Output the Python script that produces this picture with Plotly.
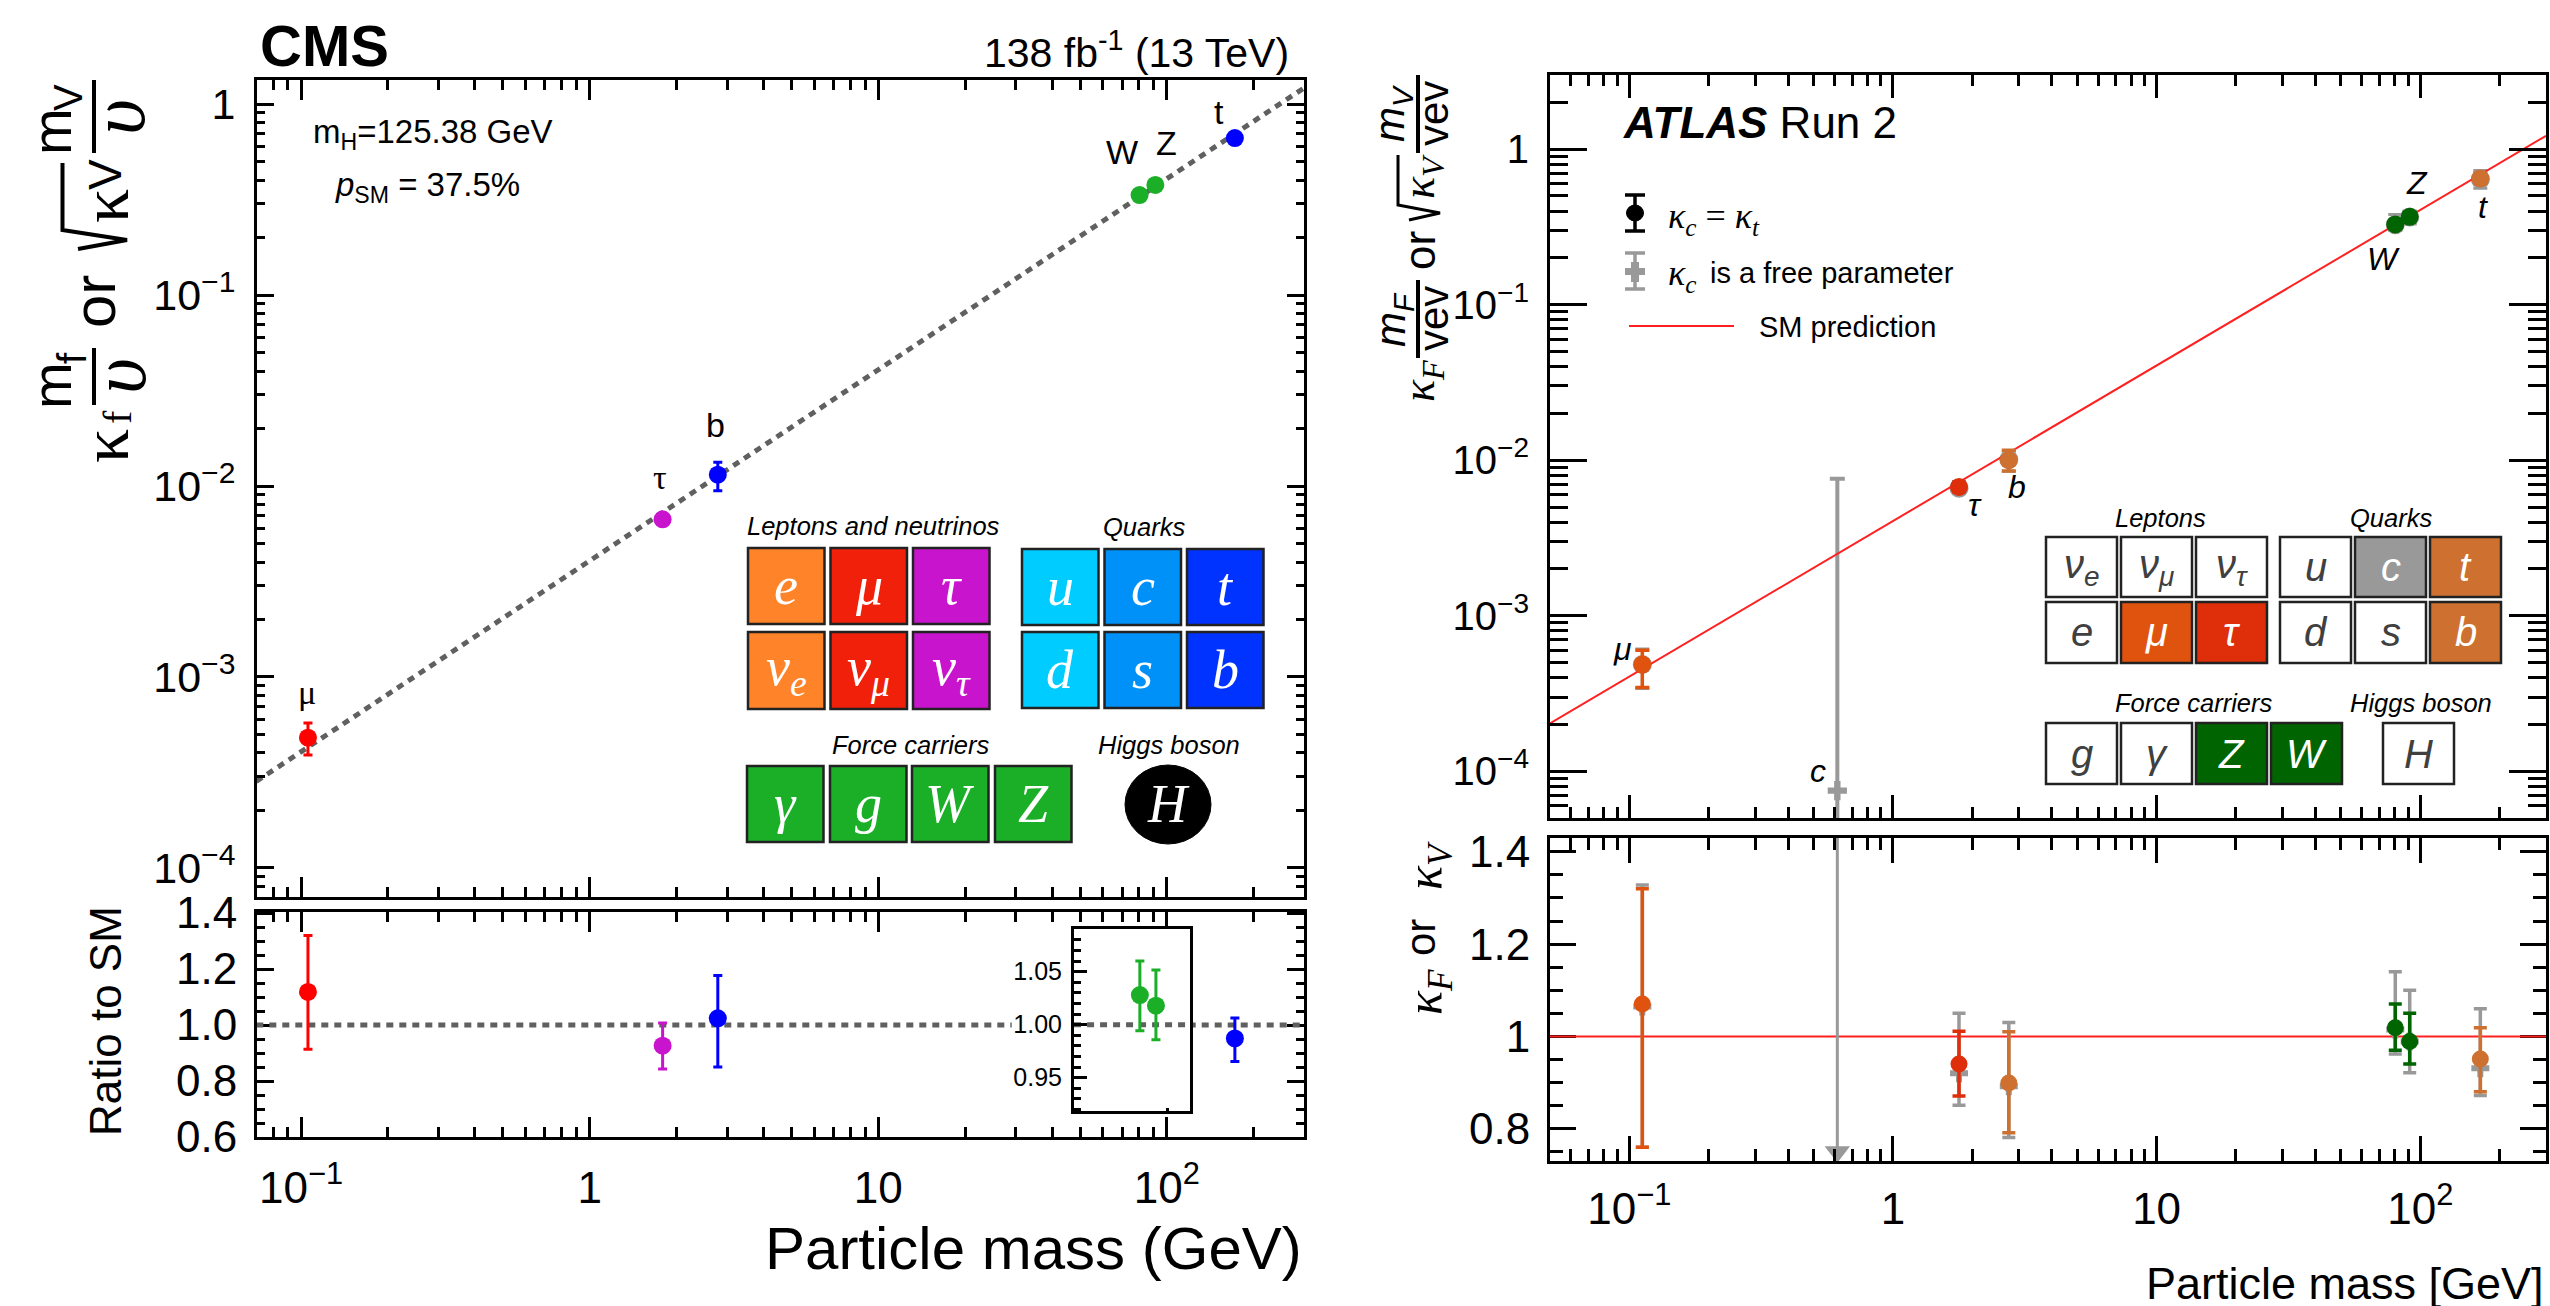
import plotly.graph_objects as go

W, H = 2550, 1306
SANS = "Liberation Sans"
SERIF = "Liberation Serif"

# ---------------- shared axis values ----------------
x_major = [0.1, 1, 10, 100]
x_major_text = ["10<sup>−1</sup>", "1", "10", "10<sup>2</sup>"]
x_minor = [0.06, 0.07, 0.08, 0.09, 0.2, 0.3, 0.4, 0.5, 0.6, 0.7, 0.8, 0.9,
           2, 3, 4, 5, 6, 7, 8, 9, 20, 30, 40, 50, 60, 70, 80, 90, 200, 300]
y_major = [1e-4, 1e-3, 1e-2, 1e-1, 1]
y_major_text = ["10<sup>−4</sup>", "10<sup>−3</sup>", "10<sup>−2</sup>", "10<sup>−1</sup>", "1"]
y_minor = [m * d for d in (1e-5, 1e-4, 1e-3, 1e-2, 1e-1, 1) for m in (2, 3, 4, 5, 6, 7, 8, 9)]

# ---------------- CMS data ----------------
cms_sm_x = [0.0700, 300]
cms_sm_y = [2.84e-4, 1.22]
cms_names = ["mu", "tau", "b", "W", "Z", "t"]
cms_mass = [0.1057, 1.79, 2.78, 80.4, 91.2, 172]
cms_value = [4.81e-4, 6.69e-3, 0.01146, 0.334, 0.377, 0.664]
cms_high = [5.75e-4, 6.95e-3, 0.0133, 0.345, 0.39, 0.70]
cms_low = [3.9e-4, 6.4e-3, 0.00945, 0.325, 0.365, 0.63]
cms_colors = ["#FF0000", "#C814CC", "#0000FF", "#1AAF27", "#1AAF27", "#0000FF"]

cms_ratio_names = ["mu", "tau", "b", "t"]
cms_ratio_mass = [0.1057, 1.79, 2.78, 172]
cms_ratio_value = [1.118, 0.926, 1.024, 0.952]
cms_ratio_high = [1.32, 1.007, 1.177, 1.025]
cms_ratio_low = [0.913, 0.843, 0.85, 0.87]
cms_ratio_colors = ["#FF0000", "#C814CC", "#0000FF", "#0000FF"]
cms_ratio_line_left = [0.07, 29]
cms_ratio_line_right = [119, 300]
cms_ratio_line_y = [1.0, 1.0]

inset_mass = [80.4, 91.2]
inset_value = [1.028, 1.018]
inset_high = [1.060, 1.0516]
inset_low = [0.9943, 0.9858]
inset_line_x = [48, 119]
inset_line_y = [1.0, 1.0]

# ---------------- ATLAS data ----------------
atlas_sm_x = [0.05, 300]
atlas_sm_y = [2.03e-4, 1.22]
atlas_mass = [0.112, 1.78, 2.75, 80.4, 91.2, 169]
atlas_value = [4.85e-4, 6.73e-3, 0.0100, 0.328, 0.367, 0.648]
atlas_high = [6.0e-4, 7.15e-3, 0.0116, 0.345, 0.39, 0.70]
atlas_low = [3.45e-4, 6.3e-3, 0.00853, 0.31, 0.345, 0.60]
atlas_gray_value = [4.85e-4, 6.6e-3, 0.0101, 0.327, 0.366, 0.64]
atlas_gray_high = [6.1e-4, 7.3e-3, 0.0114, 0.38, 0.40, 0.73]
atlas_gray_low = [3.4e-4, 6.1e-3, 0.0085, 0.30, 0.33, 0.56]
atlas_colors = ["#E0530F", "#DE2E0A", "#CD7030", "#006400", "#006400", "#CD7030"]
atlas_gray = "#999999"
atlas_c_mass = [0.615]
atlas_c_value = [7.5e-5]
atlas_c_high = [7.6e-3]
atlas_c_low = [4e-5]

atlas_ratio_line_x = [0.05, 300]
atlas_ratio_line_y = [1.0, 1.0]
atlas_ratio_value = [1.07, 0.94, 0.899, 1.019, 0.989, 0.951]
atlas_ratio_high = [1.32, 1.011, 1.01, 1.07, 1.05, 1.019]
atlas_ratio_low = [0.76, 0.871, 0.791, 0.97, 0.94, 0.88]
atlas_ratio_gray_value = [1.065, 0.92, 0.892, 1.015, 0.989, 0.931]
atlas_ratio_gray_high = [1.328, 1.05, 1.03, 1.14, 1.10, 1.06]
atlas_ratio_gray_low = [0.76, 0.851, 0.781, 0.962, 0.921, 0.872]
atlas_c_ratio_x = [0.615, 0.615]
atlas_c_ratio_y = [1.45, 0.75]


def X(p):
    return p / W


def Y(p):
    return 1 - p / H


fig = go.Figure()


def err(vals, hi, lo, color, width, thick):
    return dict(type="data", symmetric=False,
                array=[h - v for h, v in zip(hi, vals)],
                arrayminus=[v - l for l, v in zip(lo, vals)],
                color=color, thickness=thick, width=width)


def point(xa, ya, x, y, hi, lo, color, size, symbol="circle", capw=4.5, thick=3):
    fig.add_trace(go.Scatter(x=[x], y=[y], xaxis=xa, yaxis=ya, mode="markers",
                             marker=dict(color=color, size=size, symbol=symbol, line=dict(width=0)),
                             error_y=err([y], [hi], [lo], color, capw, thick),
                             showlegend=False, hoverinfo="skip"))


def line(xa, ya, xs, ys, color, width, dash="solid"):
    fig.add_trace(go.Scatter(x=xs, y=ys, xaxis=xa, yaxis=ya, mode="lines",
                             line=dict(color=color, width=width, dash=dash),
                             showlegend=False, hoverinfo="skip"))


DOT = "7px,6px"
GRAYL = "#606060"
# CMS main
line("x", "y", cms_sm_x, cms_sm_y, GRAYL, 5, DOT)
for i in range(len(cms_names)):
    point("x", "y", cms_mass[i], cms_value[i], cms_high[i], cms_low[i], cms_colors[i], 18)
# CMS ratio
line("x2", "y2", cms_ratio_line_left, cms_ratio_line_y, GRAYL, 5, DOT)
line("x2", "y2", cms_ratio_line_right, cms_ratio_line_y, GRAYL, 5, DOT)
for i in range(len(cms_ratio_names)):
    point("x2", "y2", cms_ratio_mass[i], cms_ratio_value[i], cms_ratio_high[i], cms_ratio_low[i],
          cms_ratio_colors[i], 18)
# inset
line("x3", "y3", inset_line_x, inset_line_y, GRAYL, 5, DOT)
for i in range(len(inset_mass)):
    point("x3", "y3", inset_mass[i], inset_value[i], inset_high[i], inset_low[i], "#1AAF27", 18)

# ATLAS main
point("x4", "y4", atlas_c_mass[0], atlas_c_value[0], atlas_c_high[0], atlas_c_low[0], atlas_gray, 16,
      "cross", 7.5, 4)
for i in range(len(atlas_mass)):
    point("x4", "y4", atlas_mass[i], atlas_gray_value[i], atlas_gray_high[i], atlas_gray_low[i],
          atlas_gray, 19, "circle", 7, 3)
line("x4", "y4", atlas_sm_x, atlas_sm_y, "#FF2020", 2)
for i in range(len(atlas_mass)):
    point("x4", "y4", atlas_mass[i], atlas_value[i], atlas_high[i], atlas_low[i], atlas_colors[i], 18,
          "circle", 7, 3.5)
# ATLAS ratio
line("x5", "y5", atlas_ratio_line_x, atlas_ratio_line_y, "#FF2020", 2)
line("x5", "y5", atlas_c_ratio_x, atlas_c_ratio_y, atlas_gray, 3)
fig.add_trace(go.Scatter(x=atlas_c_ratio_x[1:], y=atlas_c_ratio_y[1:], xaxis="x5", yaxis="y5", mode="markers",
                         marker=dict(symbol="triangle-down", size=22, color=atlas_gray),
                         showlegend=False, hoverinfo="skip"))
for i in range(len(atlas_mass)):
    point("x5", "y5", atlas_mass[i], atlas_ratio_gray_value[i], atlas_ratio_gray_high[i],
          atlas_ratio_gray_low[i], atlas_gray, 15, "cross", 6.5, 3.5)
for i in range(len(atlas_mass)):
    point("x5", "y5", atlas_mass[i], atlas_ratio_value[i], atlas_ratio_high[i], atlas_ratio_low[i],
          atlas_colors[i], 17, "circle", 6.5, 3.5)


def axis(**kw):
    base = dict(showline=True, linecolor="black", linewidth=3, mirror="allticks", ticks="inside",
                showgrid=False, zeroline=False, tickcolor="black", tickwidth=2.5)
    base.update(kw)
    return base


def xax(x0, x1, rng, anchor, major=20, minor=10, labels=False, fs=44, standoff=10):
    return axis(type="log", range=rng, domain=[X(x0), X(x1)], anchor=anchor,
                tickmode="array", tickvals=x_major, ticktext=x_major_text,
                ticklen=major, showticklabels=labels, ticklabelstandoff=standoff,
                tickfont=dict(family=SANS, size=fs, color="black"),
                minor=dict(ticks="inside", ticklen=minor, tickwidth=2.5, tickcolor="black",
                           tickmode="array", tickvals=x_minor))


def ylog(y0, y1, rng, anchor, major, minor, fs):
    return axis(type="log", range=rng, domain=[Y(y1), Y(y0)], anchor=anchor,
                tickmode="array", tickvals=y_major, ticktext=y_major_text,
                ticklen=major, ticklabelstandoff=10,
                tickfont=dict(family=SANS, size=fs, color="black"),
                minor=dict(ticks="inside", ticklen=minor, tickwidth=2.5, tickcolor="black",
                           tickmode="array", tickvals=y_minor))


def ylin(y0, y1, rng, anchor, vals, text, major, minor, fs, minor_step=0.05):
    return axis(range=rng, domain=[Y(y1), Y(y0)], anchor=anchor, layer="below traces",
                tickmode="array", tickvals=vals, ticktext=text,
                ticklen=major, ticklabelstandoff=8,
                tickfont=dict(family=SANS, size=fs, color="black"),
                minor=dict(ticks="inside", ticklen=minor, tickwidth=2.5, tickcolor="black",
                           tick0=0, dtick=minor_step, tickmode="linear"))


cms_xr = [-1.1525, 2.475]
atlas_xr = [-1.301, 2.477]
fig.update_layout(
    width=W, height=H, margin=dict(l=0, r=0, t=0, b=0, pad=0, autoexpand=False),
    paper_bgcolor="white", plot_bgcolor="white", showlegend=False,
    font=dict(family=SANS, color="black"),
    xaxis=xax(257, 1304, cms_xr, "y"),
    yaxis=ylog(80, 897, [-4.152, 0.126], "x", 17, 8, 43),
    xaxis2=xax(257, 1304, cms_xr, "y2", labels=True, standoff=10),
    yaxis2=ylin(912, 1137, [0.6, 1.4036], "x2", [0.6, 0.8, 1.0, 1.2, 1.4],
                ["0.6", "0.8", "1.0", "1.2", "1.4"], 17, 8, 44),
    xaxis3=axis(type="log", range=[1.681, 2.076], domain=[X(1074), X(1190)], anchor="y3",
                tickmode="array", tickvals=[50, 100], ticktext=["", ""], ticklen=3, showticklabels=False,
                mirror=True),
    yaxis3=axis(range=[0.9186, 1.0903], domain=[Y(1111), Y(929)], anchor="x3",
                tickmode="array", tickvals=[0.95, 1.0, 1.05], ticktext=["0.95", "1.00", "1.05"],
                ticklen=13, ticklabelstandoff=4, mirror=True,
                tickfont=dict(family=SANS, size=25, color="black"),
                minor=dict(ticks="inside", ticklen=7, tickwidth=2.5, tickcolor="black",
                           tick0=0, dtick=0.01, tickmode="linear")),
    xaxis4=xax(1550, 2546, atlas_xr, "y4", major=23, minor=11),
    yaxis4=ylog(75, 818, [-4.301, 0.477], "x4", 37, 18, 40),
    xaxis5=xax(1550, 2546, atlas_xr, "y5", major=25, minor=12, labels=True, standoff=7),
    yaxis5=ylin(838, 1161, [0.73, 1.43], "x5", [0.8, 1.0, 1.2, 1.4], ["0.8", "1", "1.2", "1.4"], 26, 13, 44),
)
annotations, shapes = [], []


def txt(t, x, y, size, family=SANS, color="black", anchor="center", angle=0):
    annotations.append(dict(text=t, x=X(x), y=Y(y), xref="paper", yref="paper", showarrow=False,
                            xanchor=anchor, yanchor="middle", textangle=angle,
                            font=dict(family=family, size=size, color=color)))


def rect(x0, y0, x1, y1, fill, edge="#222222", w=2.5, kind="rect"):
    shapes.append(dict(type=kind, xref="paper", yref="paper", x0=X(x0), x1=X(x1), y0=Y(y0), y1=Y(y1),
                       fillcolor=fill, line=dict(color=edge, width=w)))


def seg(x0, y0, x1, y1, color="black", w=3):
    shapes.append(dict(type="line", xref="paper", yref="paper", x0=X(x0), x1=X(x1), y0=Y(y0), y1=Y(y1),
                       line=dict(color=color, width=w)))


def poly(pts, color="black", w=3):
    path = "M " + " L ".join(f"{X(a):.5f},{Y(b):.5f}" for a, b in pts)
    shapes.append(dict(type="path", xref="paper", yref="paper", path=path, line=dict(color=color, width=w)))


def tile(x0, y0, x1, y1, fill, label, size, family, color="white"):
    rect(x0, y0, x1, y1, fill)
    txt(f"<i>{label}</i>", (x0 + x1) / 2, (y0 + y1) / 2, size, family, color)


# ---- CMS texts ----
txt("<b>CMS</b>", 258, 45, 58, anchor="left")
txt("138 fb<sup>-1</sup> (13 TeV)", 1291, 50, 41, anchor="right")
txt("m<sub>H</sub>=125.38 GeV", 311, 134, 33, anchor="left")
txt("<i>p</i><sub>SM</sub> = 37.5%", 333, 187, 33, anchor="left")
txt("Particle mass (GeV)", 1304, 1248, 60, anchor="right")
txt("Ratio to SM", 105, 1021, 44, angle=-90)
# rotated CMS y title, built from separate glyph groups
txt("κ", 105, 446, 68, SERIF, angle=-90)
txt("f", 117, 417, 40, SERIF, angle=-90)
txt("m", 51, 386, 56, angle=-90)
txt("f", 72, 358, 40, angle=-90)
seg(94, 348, 94, 405, w=4)
txt("<i>υ</i>", 118, 376, 78, SERIF, angle=-90)
txt("or", 95, 302, 60, angle=-90)
poly([(62.5, 163), (62.5, 230), (127, 240), (78, 249)], w=4)
txt("κ", 105, 206, 68, SERIF, angle=-90)
txt("V", 105, 175, 46, angle=-90)
txt("m", 51, 132, 56, angle=-90)
txt("V", 68, 98, 40, angle=-90)
seg(94, 80, 94, 153, w=4)
txt("<i>υ</i>", 118, 117, 78, SERIF, angle=-90)
# CMS particle labels
txt("μ", 307, 692, 34, SERIF)
txt("τ", 660, 477, 34, SERIF)
txt("b", 715, 425, 34)
txt("W", 1122, 152, 34)
txt("Z", 1166, 143, 34)
txt("t", 1219, 112, 34)

# ---- CMS table ----
cms_lepton_row1 = ["e", "μ", "τ"]
cms_lepton_row2 = ["ν<sub>e</sub>", "ν<sub>μ</sub>", "ν<sub>τ</sub>"]
cms_lepton_fill = ["#FF8329", "#F0200A", "#C814CC"]
cms_quark_row1 = ["u", "c", "t"]
cms_quark_row2 = ["d", "s", "b"]
cms_quark_fill = ["#00CCFF", "#0091F8", "#0033FF"]
cms_force = ["γ", "g", "W", "Z"]
cms_force_fill = "#1AAF27"
lx = [748, 830.5, 913]
qx = [1022, 1104.5, 1187]
fx = [747, 830, 912, 995]
for i in range(3):
    tile(lx[i], 548, lx[i] + 76.5, 624, cms_lepton_fill[i], cms_lepton_row1[i], 54, SERIF)
    tile(lx[i], 632, lx[i] + 76.5, 709, cms_lepton_fill[i], cms_lepton_row2[i], 54, SERIF)
    tile(qx[i], 549, qx[i] + 76.5, 625, cms_quark_fill[i], cms_quark_row1[i], 54, SERIF)
    tile(qx[i], 632, qx[i] + 76.5, 708, cms_quark_fill[i], cms_quark_row2[i], 54, SERIF)
for i in range(4):
    tile(fx[i], 766, fx[i] + 76.5, 842, cms_force_fill, cms_force[i], 54, SERIF)
rect(1125, 765, 1211, 844, "black", "black", 1, "circle")
txt("<i>H</i>", 1168, 804, 54, SERIF, "white")
txt("<i>Leptons and neutrinos</i>", 873, 526, 25.5)
txt("<i>Quarks</i>", 1144, 527, 25.5)
txt("<i>Force carriers</i>", 911, 745, 25.5)
txt("<i>Higgs boson</i>", 1169, 745, 25.5)

# ---- ATLAS texts ----
txt("<b><i>ATLAS</i></b> Run 2", 1621, 122, 44, anchor="left")
txt("Particle mass [GeV]", 2546, 1283, 45, anchor="right")
txt("<i>κ<sub>F</sub></i>", 1428, 992, 50, SERIF, angle=-90)
txt("or", 1420, 938, 42, angle=-90)
txt("<i>κ<sub>V</sub></i>", 1428, 866, 50, SERIF, angle=-90)
# rotated ATLAS y title
txt("<i>κ<sub>F</sub></i>", 1422, 381, 46, SERIF, angle=-90)
txt("<i>m<sub>F</sub></i>", 1393, 320, 42, angle=-90)
seg(1418, 280, 1418, 358, w=4)
txt("vev", 1434, 319, 42, angle=-90)
txt("or", 1419, 251, 44, angle=-90)
poly([(1398, 155), (1398, 205), (1440, 213), (1409, 220)], w=3)
txt("<i>κ<sub>V</sub></i>", 1422, 177, 46, SERIF, angle=-90)
txt("<i>m<sub>V</sub></i>", 1393, 114, 42, angle=-90)
seg(1418, 75, 1418, 153, w=4)
txt("vev", 1434, 114, 42, angle=-90)
# ATLAS particle labels
txt("<i>μ</i>", 1622, 649, 32)
txt("<i>τ</i>", 1975, 505, 32)
txt("<i>b</i>", 2017, 487, 32)
txt("<i>c</i>", 1818, 771, 32)
txt("<i>W</i>", 2383, 259, 32)
txt("<i>Z</i>", 2417, 183, 32)
txt("<i>t</i>", 2483, 207, 32)
# ATLAS legend
seg(1635, 195, 1635, 231, w=3.5)
seg(1625, 195, 1645, 195, w=3.5)
seg(1625, 231, 1645, 231, w=3.5)
rect(1626.5, 205, 1643.5, 221, "black", "black", 1, "circle")
txt("<i>κ<sub>c</sub></i> = <i>κ<sub>t</sub></i>", 1666, 218, 36, SERIF, anchor="left")
seg(1635, 253, 1635, 289, atlas_gray, 3.5)
seg(1625, 253, 1645, 253, atlas_gray, 3.5)
seg(1625, 289, 1645, 289, atlas_gray, 3.5)
rect(1625, 268, 1645, 275, atlas_gray, atlas_gray, 0)
rect(1631, 262, 1639, 282, atlas_gray, atlas_gray, 0)
txt("<i>κ<sub>c</sub></i>", 1666, 276, 36, SERIF, anchor="left")
txt("is a free parameter", 1708, 273, 29, anchor="left")
seg(1629, 326, 1734, 326, "#FF2020", 2)
txt("SM prediction", 1757, 327, 29, anchor="left")

# ---- ATLAS table ----
DARK = "#404040"
atlas_lepton_row1 = ["ν<sub>e</sub>", "ν<sub>μ</sub>", "ν<sub>τ</sub>"]
atlas_lepton_row2 = ["e", "μ", "τ"]
atlas_lepton_row2_fill = ["white", "#E0530F", "#DE2E0A"]
atlas_quark_row1 = ["u", "c", "t"]
atlas_quark_row1_fill = ["white", "#999999", "#CD7030"]
atlas_quark_row2 = ["d", "s", "b"]
atlas_quark_row2_fill = ["white", "white", "#CD7030"]
atlas_force = ["g", "γ", "Z", "W"]
atlas_force_fill = ["white", "white", "#006400", "#006400"]


def color_for(fill):
    return DARK if fill == "white" else "white"


alx = [2046, 2121, 2196]
aqx = [2280, 2355, 2430]
afx = [2046, 2121, 2196, 2271]
for i in range(3):
    tile(alx[i], 537, alx[i] + 71, 597, "white", atlas_lepton_row1[i], 40, SANS, DARK)
    tile(alx[i], 602, alx[i] + 71, 663, atlas_lepton_row2_fill[i], atlas_lepton_row2[i], 40, SANS,
         color_for(atlas_lepton_row2_fill[i]))
    tile(aqx[i], 537, aqx[i] + 71, 597, atlas_quark_row1_fill[i], atlas_quark_row1[i], 40, SANS,
         color_for(atlas_quark_row1_fill[i]))
    tile(aqx[i], 602, aqx[i] + 71, 663, atlas_quark_row2_fill[i], atlas_quark_row2[i], 40, SANS,
         color_for(atlas_quark_row2_fill[i]))
for i in range(4):
    tile(afx[i], 723, afx[i] + 71, 784, atlas_force_fill[i], atlas_force[i], 40, SANS,
         color_for(atlas_force_fill[i]))
tile(2383, 723, 2454, 784, "white", "H", 40, SANS, DARK)
txt("<i>Leptons</i>", 2160, 518, 25.5)
txt("<i>Quarks</i>", 2391, 518, 25.5)
txt("<i>Force carriers</i>", 2194, 703, 25.5)
txt("<i>Higgs boson</i>", 2421, 703, 25.5)

fig.update_layout(annotations=annotations, shapes=shapes)
fig.write_html("out.html", config={"displayModeBar": False},
               post_script="document.body.style.margin='0';document.body.style.overflow='hidden';")
